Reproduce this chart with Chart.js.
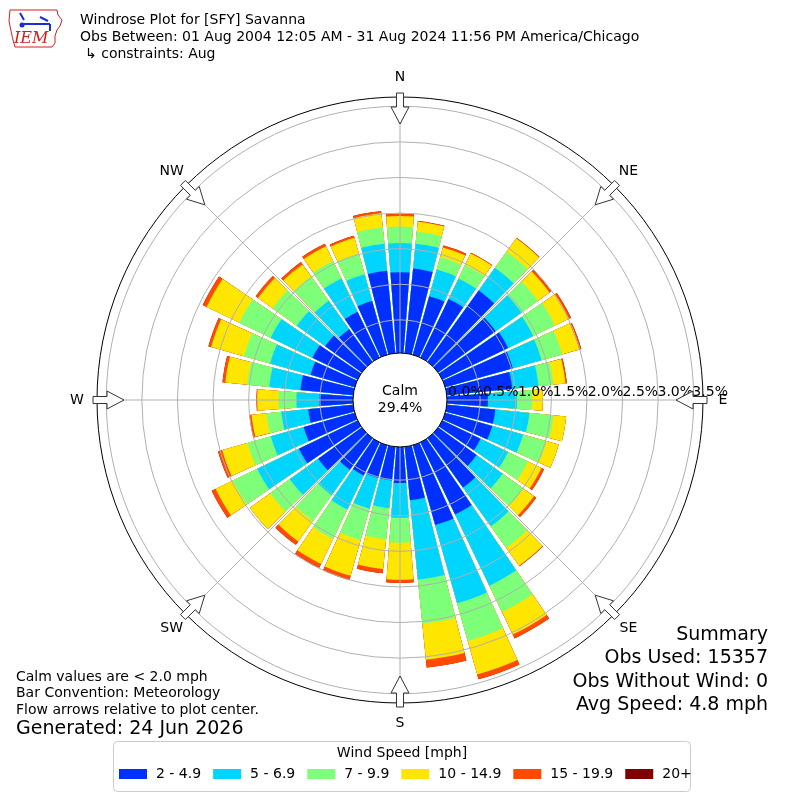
<!DOCTYPE html>
<html>
<head>
<meta charset="utf-8">
<title>Windrose SFY</title>
<script src="https://cdn.jsdelivr.net/npm/chart.js@4.4.1/dist/chart.umd.min.js"></script>
<style>
  html, body { margin: 0; padding: 0; background: #fff; }
  #wrap { width: 800px; height: 800px; }
</style>
</head>
<body>
<div id="wrap"><canvas id="rose" width="800" height="800"></canvas></div>
<script>
// direction bins (degrees, met convention) and speed bins
const directions = [0, 10, 20, 30, 40, 50, 60, 70, 80, 90, 100, 110, 120, 130, 140, 150, 160, 170,
                    180, 190, 200, 210, 220, 230, 240, 250, 260, 270, 280, 290, 300, 310, 320, 330, 340, 350];
const speedBins = ['2 - 4.9', '5 - 6.9', '7 - 9.9', '10 - 14.9', '15 - 19.9', '20+'];
const binColors = ['#0030ff', '#00d5ff', '#7dff7a', '#ffe600', '#ff4a00', '#800000'];

// frequency [%] per direction for each speed bin
const spd2to5   = [1.17, 1.23, 0.89, 0.95, 1.27, 1.03, 1.06, 1.02, 0.96, 0.61, 0.72, 0.72, 0.63, 0.70, 0.89, 1.16, 1.20, 0.79,
                   0.54, 0.51, 0.51, 0.55, 0.58, 0.79, 0.95, 0.78, 0.67, 0.51, 0.78, 0.68, 0.74, 0.67, 0.60, 0.75, 0.82, 1.20];
const spd5to7   = [0.41, 0.35, 0.39, 0.32, 0.39, 0.45, 0.39, 0.42, 0.37, 0.41, 0.48, 0.45, 0.43, 0.45, 0.67, 1.11, 1.14, 1.12,
                   0.49, 0.39, 0.45, 0.53, 0.44, 0.49, 0.65, 0.48, 0.38, 0.32, 0.44, 0.59, 0.65, 0.49, 0.49, 0.52, 0.39, 0.38];
const spd7to10  = [0.23, 0.17, 0.18, 0.21, 0.28, 0.28, 0.34, 0.30, 0.21, 0.21, 0.34, 0.34, 0.31, 0.36, 0.37, 0.41, 0.55, 0.62,
                   0.35, 0.44, 0.46, 0.46, 0.45, 0.34, 0.38, 0.34, 0.21, 0.25, 0.31, 0.38, 0.49, 0.42, 0.42, 0.27, 0.30, 0.23];
const spd10to15 = [0.15, 0.14, 0.14, 0.18, 0.23, 0.20, 0.22, 0.25, 0.17, 0.15, 0.18, 0.18, 0.21, 0.18, 0.31, 0.35, 0.49, 0.51,
                   0.52, 0.42, 0.52, 0.39, 0.35, 0.35, 0.27, 0.37, 0.21, 0.30, 0.31, 0.48, 0.51, 0.25, 0.21, 0.23, 0.23, 0.20];
const spd15to20 = [0.03, 0.01, 0.03, 0.01, 0.01, 0.03, 0.03, 0.03, 0.02, 0.00, 0.00, 0.00, 0.04, 0.04, 0.01, 0.06, 0.07, 0.11,
                   0.04, 0.06, 0.06, 0.06, 0.06, 0.00, 0.06, 0.06, 0.03, 0.01, 0.04, 0.04, 0.06, 0.04, 0.04, 0.04, 0.03, 0.03];
const spd20up   = [0, 0, 0, 0, 0, 0, 0, 0, 0, 0, 0, 0, 0, 0, 0, 0, 0, 0,
                   0, 0, 0, 0, 0, 0, 0, 0, 0, 0, 0, 0, 0, 0, 0, 0, 0, 0];

const pctTicks = [0.0, 0.5, 1.0, 1.5, 2.0, 2.5, 3.0, 3.5];
const compass = ['N', 'NE', 'E', 'SE', 'S', 'SW', 'W', 'NW'];
const calmPct = 29.4;
const summary = ['Summary', 'Obs Used: 15357', 'Obs Without Wind: 0', 'Avg Speed: 4.8 mph'];
const notes = ['Calm values are < 2.0 mph', 'Bar Convention: Meteorology', 'Flow arrows relative to plot center.'];

const RMIN = -0.625;   // radius left open for the calm circle
const RMAX = 3.63;
const BAR = 8.6;       // degrees of each bar
const GAP = 1.4;       // white gap between bars
const FONT = '"DejaVu Sans", "Liberation Sans", sans-serif';

// stack the bins: each dataset holds the running total, smallest drawn on top
const series = [spd2to5, spd5to7, spd7to10, spd10to15, spd15to20, spd20up];
const running = directions.map(() => 0);
const labels = [];
directions.forEach(d => { labels.push(d + '°'); labels.push(''); });

const datasets = series.map((s, k) => {
  const data = [];
  s.forEach((v, i) => {
    running[i] += v;
    data.push(running[i]);
    data.push(RMIN);
  });
  return {
    label: speedBins[k],
    data,
    backgroundColor: c => (c.dataIndex % 2 ? 'rgba(0,0,0,0)' : binColors[k]),
    borderWidth: 0,
    angle: c => (c.dataIndex % 2 ? GAP : BAR)
  };
});

const roseDecor = {
  id: 'roseDecor',
  afterDraw(chart) {
    const ctx = chart.ctx;
    const s = chart.scales.r;
    const cx = s.xCenter, cy = s.yCenter;
    const rOuter = s.getDistanceFromCenterForValue(RMAX);
    const rCalm = s.getDistanceFromCenterForValue(0);
    const pt = (deg, r) => {
      const a = (deg - 90) * Math.PI / 180;
      return [cx + r * Math.cos(a), cy + r * Math.sin(a)];
    };
    ctx.save();

    // spokes
    ctx.strokeStyle = '#b0b0b0';
    ctx.lineWidth = 1;
    compass.forEach((c, k) => {
      const [x, y] = pt(k * 45, rOuter);
      ctx.beginPath(); ctx.moveTo(cx, cy); ctx.lineTo(x, y); ctx.stroke();
    });

    // outer frame
    ctx.strokeStyle = '#000';
    ctx.beginPath(); ctx.arc(cx, cy, rOuter, 0, 2 * Math.PI); ctx.stroke();

    // calm circle
    ctx.fillStyle = '#fff';
    ctx.beginPath(); ctx.arc(cx, cy, rCalm + 2.5, 0, 2 * Math.PI); ctx.fill(); ctx.stroke();
    ctx.fillStyle = '#000';
    ctx.font = '14px ' + FONT;
    ctx.textAlign = 'center';
    ctx.textBaseline = 'middle';
    ctx.fillText('Calm', cx, cy - 9);
    ctx.fillText(calmPct.toFixed(1) + '%', cx, cy + 8);

    // radial tick labels along the east axis
    ctx.textAlign = 'left';
    pctTicks.forEach(v => {
      const r = s.getDistanceFromCenterForValue(v);
      ctx.fillText(v.toFixed(1) + '%', cx + r * 0.98 + 4.5, cy - 8);
    });

    // compass labels
    ctx.textAlign = 'center';
    compass.forEach((c, k) => {
      const [x, y] = pt(k * 45, rOuter + 20);
      ctx.fillText(c, x, y);
    });

    // hollow flow arrows pointing at the centre
    const shape = [[rOuter + 4, -3.5], [rOuter - 10, -3.5], [rOuter - 10, -9], [rOuter - 27, 0],
                   [rOuter - 10, 9], [rOuter - 10, 3.5], [rOuter + 4, 3.5]];
    ctx.lineWidth = 1;
    ctx.strokeStyle = '#333';
    compass.forEach((c, k) => {
      const a = (k * 45 - 90) * Math.PI / 180;
      const ux = Math.cos(a), uy = Math.sin(a);
      ctx.beginPath();
      shape.forEach(([al, ac], j) => {
        const x = cx + al * ux - ac * uy;
        const y = cy + al * uy + ac * ux;
        if (j === 0) ctx.moveTo(x, y); else ctx.lineTo(x, y);
      });
      ctx.closePath();
      ctx.fillStyle = '#fff';
      ctx.fill();
      ctx.stroke();
    });

    // header
    ctx.fillStyle = '#000';
    ctx.textAlign = 'left';
    ctx.font = '14px ' + FONT;
    ctx.fillText('Windrose Plot for [SFY] Savanna', 80, 20);
    ctx.fillText('Obs Between: 01 Aug 2004 12:05 AM - 31 Aug 2024 11:56 PM America/Chicago', 80, 37);
    ctx.fillText('\u21b3 constraints: Aug', 85, 54);

    // logo
    ctx.strokeStyle = '#d02020';
    ctx.lineWidth = 1;
    ctx.beginPath();
    [[10, 10], [57, 10], [58, 15], [62, 20], [60, 26], [57, 30], [55, 36], [55, 43], [52, 47],
     [15, 47], [13, 40], [11, 31], [9, 21]].forEach(([x, y], j) => (j ? ctx.lineTo(x, y) : ctx.moveTo(x, y)));
    ctx.closePath();
    ctx.stroke();
    ctx.strokeStyle = '#1a2fd0';
    ctx.lineWidth = 2;
    ctx.beginPath(); ctx.moveTo(22, 24); ctx.lineTo(50, 24); ctx.moveTo(20, 13); ctx.lineTo(24, 20);
    ctx.moveTo(40, 17); ctx.lineTo(48, 21); ctx.moveTo(50, 24); ctx.lineTo(50, 31); ctx.stroke();
    ctx.fillStyle = '#1a2fd0';
    ctx.beginPath(); ctx.arc(22, 25, 2.5, 0, 2 * Math.PI); ctx.fill();
    ctx.fillStyle = '#d02020';
    ctx.font = 'italic 16px "DejaVu Serif", "Liberation Serif", serif';
    ctx.fillText('IEM', 14, 39);

    // notes bottom left
    ctx.fillStyle = '#000';
    ctx.font = '14px ' + FONT;
    notes.forEach((t, i) => ctx.fillText(t, 16, 677 + i * 16.5));
    ctx.font = '19px ' + FONT;
    ctx.fillText('Generated: 24 Jun 2026', 16, 729);

    // summary bottom right
    ctx.textAlign = 'right';
    summary.forEach((t, i) => ctx.fillText(t, 768, 635 + i * 23.5));

    // legend box
    ctx.strokeStyle = '#cccccc';
    ctx.lineWidth = 1;
    ctx.fillStyle = '#fff';
    ctx.beginPath(); ctx.roundRect(113.5, 741.5, 577, 50, 4); ctx.fill(); ctx.stroke();
    ctx.fillStyle = '#000';
    ctx.textAlign = 'center';
    ctx.font = '14px ' + FONT;
    ctx.fillText('Wind Speed [mph]', 402, 753);
    ctx.textAlign = 'left';
    let lx = 119;
    chart.data.datasets.forEach((ds, k) => {
      ctx.fillStyle = binColors[k];
      ctx.fillRect(lx, 769, 28, 10);
      ctx.fillStyle = '#000';
      ctx.fillText(ds.label, lx + 37, 774);
      lx += 37 + ctx.measureText(ds.label).width + 12;
    });
    ctx.restore();
  }
};

new Chart(document.getElementById('rose'), {
  type: 'polarArea',
  data: { labels, datasets },
  options: {
    responsive: false,
    animation: false,
    layout: { padding: { left: 97, right: 97, top: 97, bottom: 97 } },
    scales: {
      r: {
        min: RMIN,
        max: RMAX,
        startAngle: -BAR / 2,
        z: 1,
        afterBuildTicks: sc => { sc.ticks = pctTicks.slice(1).map(v => ({ value: v })); },
        ticks: { display: false },
        grid: { color: '#b0b0b0', lineWidth: 1, circular: true, z: 1 },
        angleLines: { display: false },
        pointLabels: { display: false }
      }
    },
    plugins: {
      legend: { display: false },
      tooltip: { enabled: false }
    }
  },
  plugins: [roseDecor]
});
</script>
</body>
</html>
